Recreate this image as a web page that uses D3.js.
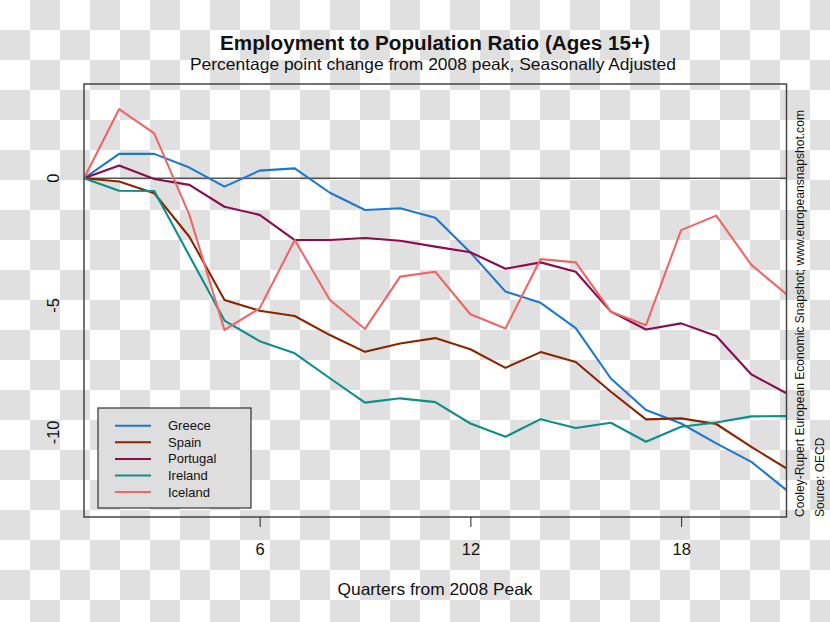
<!DOCTYPE html>
<html><head><meta charset="utf-8">
<script src="https://cdn.jsdelivr.net/npm/d3@7"></script>
<style>body{margin:0;background:#fff}svg{display:block}</style>
</head><body>
<svg id="c" width="830" height="622"></svg>
<script>
const quarters = d3.range(1, 22);
const seriesNames = ["Greece", "Spain", "Portugal", "Ireland", "Iceland"];
const seriesColors = ["#1e78d0", "#8b2500", "#8b0a50", "#0a8f8a", "#ee6666"];
const greece   = [0, 0.96, 0.96, 0.42, -0.33, 0.30, 0.39, -0.57, -1.25, -1.18, -1.55, -2.92, -4.46, -4.90, -5.90, -7.88, -9.12, -9.65, -10.43, -11.16, -12.27];
const spain    = [0, -0.13, -0.59, -2.30, -4.79, -5.21, -5.42, -6.17, -6.83, -6.50, -6.29, -6.73, -7.46, -6.84, -7.23, -8.40, -9.49, -9.45, -9.67, -10.57, -11.42];
const portugal = [0, 0.50, -0.03, -0.26, -1.12, -1.44, -2.43, -2.43, -2.35, -2.46, -2.69, -2.91, -3.56, -3.31, -3.68, -5.25, -5.95, -5.71, -6.21, -7.72, -8.46];
const ireland  = [0, -0.49, -0.50, -3.05, -5.60, -6.41, -6.89, -7.87, -8.83, -8.66, -8.81, -9.65, -10.17, -9.48, -9.83, -9.62, -10.37, -9.78, -9.61, -9.37, -9.36];
const iceland  = [0, 2.72, 1.77, -1.44, -5.97, -5.12, -2.43, -4.79, -5.93, -3.87, -3.68, -5.35, -5.91, -3.18, -3.31, -5.25, -5.78, -2.04, -1.47, -3.41, -4.56];
const xTicks = [6, 12, 18];
const yTicks = [0, -5, -10];
const title = "Employment to Population Ratio (Ages 15+)";
const subtitle = "Percentage point change from 2008 peak, Seasonally Adjusted";
const xLabel = "Quarters from 2008 Peak";
const credit = "Cooley-Rupert European Economic Snapshot; www.europeansnapshot.com";
const source = "Source: OECD";

const allSeries = [greece, spain, portugal, ireland, iceland];
const W = 830, H = 622;
const svg = d3.select("#c");
const font = "'Liberation Sans', Arial, Helvetica, sans-serif";

// checkerboard background
const sq = 30;
const cells = [];
for (let j = 0; j < Math.ceil(H / sq); j++)
  for (let i = 0; i < Math.ceil(W / sq); i++)
    if ((i + j) % 2 === 1) cells.push([i, j]);
svg.append("g").selectAll("rect").data(cells).join("rect")
  .attr("x", d => d[0] * sq).attr("y", d => d[1] * sq)
  .attr("width", sq).attr("height", sq).attr("fill", "#e0e0e0");

const L = 84, R = 786.5, T = 84, B = 517;
const x = d3.scaleLinear().domain([1, 21]).range([L, R]);
const y = d3.scaleLinear().domain([-13.33, 3.71]).range([B, T]);

// zero line
svg.append("line").attr("x1", L).attr("x2", R).attr("y1", y(0)).attr("y2", y(0))
  .attr("stroke", "#555").attr("stroke-width", 1.5);

// series
const line = d3.line().x((d, i) => x(quarters[i])).y(d => y(d));
svg.append("g").selectAll("path").data(allSeries).join("path")
  .attr("d", line).attr("fill", "none")
  .attr("stroke", (d, i) => seriesColors[i]).attr("stroke-width", 2.1)
  .attr("stroke-linejoin", "round");

// box
svg.append("rect").attr("x", L).attr("y", T).attr("width", R - L).attr("height", B - T)
  .attr("fill", "none").attr("stroke", "#444").attr("stroke-width", 1.5);

// x axis
const xAxis = d3.axisBottom(x).tickValues(xTicks).tickSize(10).tickPadding(16).tickFormat(d3.format("d"));
const gx = svg.append("g").attr("transform", `translate(0,${B})`).call(xAxis);
gx.select(".domain").remove();
gx.selectAll("line").attr("stroke", "#222");
gx.selectAll("text").attr("font-family", font).attr("font-size", 16.5).attr("fill", "#111");

// y axis labels (rotated)
svg.append("g").selectAll("text").data(yTicks).join("text")
  .attr("transform", d => `translate(59,${y(d)}) rotate(-90)`)
  .attr("text-anchor", "middle")
  .attr("font-family", font).attr("font-size", 16.5).attr("fill", "#111")
  .text(d => d3.format("d")(d).replace("\u2212", "-"));

// titles
svg.append("text").attr("x", 435).attr("y", 50).attr("text-anchor", "middle")
  .attr("font-family", font).attr("font-size", 19.5).attr("font-weight", "bold").attr("fill", "#111")
  .attr("textLength", 430).attr("lengthAdjust", "spacingAndGlyphs")
  .text(title);
svg.append("text").attr("x", 433).attr("y", 70).attr("text-anchor", "middle")
  .attr("font-family", font).attr("font-size", 16.5).attr("fill", "#111")
  .attr("textLength", 486).attr("lengthAdjust", "spacingAndGlyphs")
  .text(subtitle);
svg.append("text").attr("x", 435).attr("y", 595).attr("text-anchor", "middle")
  .attr("font-family", font).attr("font-size", 16.5).attr("fill", "#111")
  .attr("textLength", 195).attr("lengthAdjust", "spacingAndGlyphs")
  .text(xLabel);

// side notes
svg.append("text").attr("transform", `translate(804,${B}) rotate(-90)`)
  .attr("font-family", font).attr("font-size", 12).attr("fill", "#111")
  .attr("textLength", 407).attr("lengthAdjust", "spacingAndGlyphs").text(credit);
svg.append("text").attr("transform", `translate(824,${B}) rotate(-90)`)
  .attr("font-family", font).attr("font-size", 12).attr("fill", "#111").text(source);

// legend
const lg = svg.append("g");
lg.append("rect").attr("x", 98).attr("y", 408).attr("width", 153).attr("height", 100)
  .attr("fill", "#dedede").attr("stroke", "#333").attr("stroke-width", 1.2);
const rows = lg.selectAll("g.row").data(seriesNames).join("g").attr("class", "row")
  .attr("transform", (d, i) => `translate(0,${425.7 + i * 16.6})`);
rows.append("line").attr("x1", 115).attr("x2", 151)
  .attr("stroke", (d, i) => seriesColors[i]).attr("stroke-width", 2);
rows.append("text").attr("x", 168).attr("dy", "0.35em")
  .attr("font-family", font).attr("font-size", 13).attr("fill", "#111").text(d => d);
</script>
</body></html>
